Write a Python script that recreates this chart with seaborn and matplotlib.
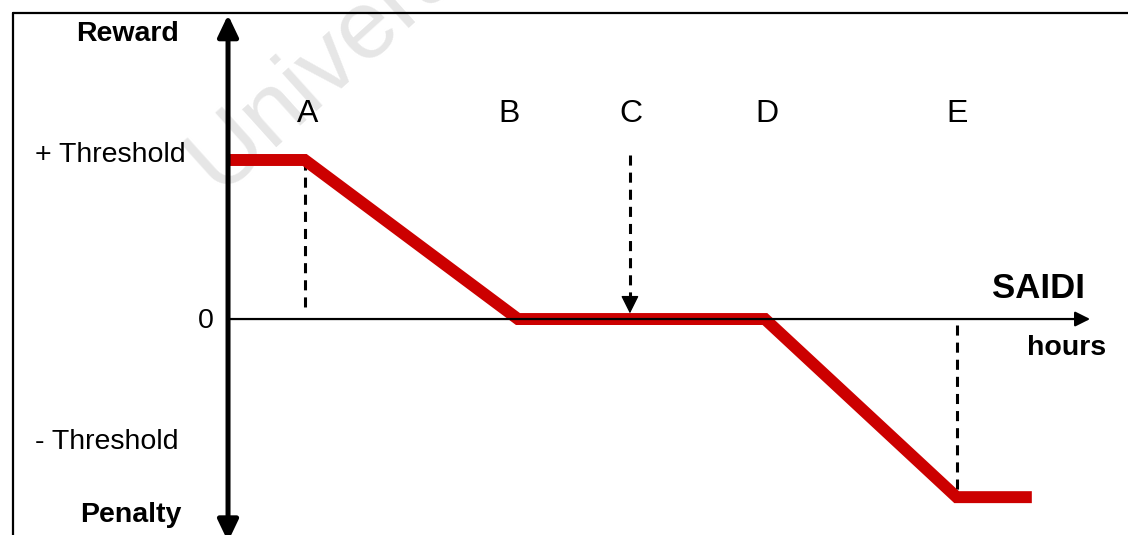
import matplotlib
matplotlib.use("Agg")
import matplotlib.pyplot as plt
from matplotlib.lines import Line2D
import seaborn as sns
import pandas as pd

# piecewise reward / penalty curve (x = SAIDI hours, y = reward level)
curve_x = [0.0, 1.0, 3.78, 7.0, 9.5, 10.48]
curve_y = [1.0, 1.0, 0.0, 0.0, -1.12, -1.12]

# labelled points on the SAIDI axis
point_names = ["A", "B", "C", "D", "E"]
point_x = [1.0, 3.78, 5.24, 7.0, 9.5]
label_x = [1.04, 3.66, 5.25, 7.03, 9.5]

sns.set_theme(style="white")
plt.rcParams["font.family"] = ["Liberation Sans", "DejaVu Sans"]
plt.rcParams["text.color"] = "black"

fig = plt.figure(figsize=(11.28, 5.35), dpi=100)
ax = fig.add_axes([0, 0, 1, 1])
ax.set_xlim(-2.973, 11.734)
ax.set_ylim(-1.358, 2.006)
ax.axis("off")

# frame round the drawing (left and top edges visible)
fig.add_artist(Line2D([0.0115, 0.0115], [0, 0.9757], color="black", lw=1.6))
fig.add_artist(Line2D([0.0115, 1.0], [0.9757, 0.9757], color="black", lw=1.6))

# watermark
ax.text(-0.13, 0.79, "University", fontsize=70, color="#e6e6e6",
        rotation=42, rotation_mode="anchor", ha="left", va="baseline", zorder=0)

df = pd.DataFrame({"hours": curve_x, "reward": curve_y})
sns.lineplot(data=df, x="hours", y="reward", sort=False, color="#cc0000",
             lw=8.6, ax=ax, zorder=2, solid_joinstyle="miter", solid_capstyle="butt")

# axes arrows
ax.annotate("", xy=(11.24, 0), xytext=(0, 0),
            arrowprops=dict(arrowstyle="-|>,head_length=0.9,head_width=0.45",
                            mutation_scale=10, lw=1.6, color="black",
                            shrinkA=0, shrinkB=0), zorder=3)
ax.annotate("", xy=(0, 1.912), xytext=(0, -1.40), annotation_clip=False,
            arrowprops=dict(arrowstyle="<|-|>,head_length=1.3,head_width=0.62",
                            mutation_scale=10, lw=3.6, color="black",
                            shrinkA=0, shrinkB=0), zorder=4)

# dashed guides
dash = (3.3, 2.3)
ax.plot([point_x[0], point_x[0]], [1.0, 0.057], color="black", lw=2.2,
        dashes=dash, zorder=1)
ax.plot([point_x[4], point_x[4]], [-0.04, -1.12], color="black", lw=2.2,
        dashes=dash, zorder=1)
ax.plot([point_x[2], point_x[2]], [1.03, 0.1], color="black", lw=2.2,
        dashes=dash, zorder=1)
ax.annotate("", xy=(point_x[2], 0.035), xytext=(point_x[2], 0.12),
            arrowprops=dict(arrowstyle="-|>,head_length=1.1,head_width=0.55",
                            mutation_scale=10, lw=1, color="black",
                            shrinkA=0, shrinkB=0), zorder=3)

# point letters
for name, lx in zip(point_names, label_x):
    ax.text(lx, 1.31, name, fontsize=23, ha="center", va="center_baseline")

# axis labels
ax.text(-1.317, 1.79, "Reward", fontsize=20.5, fontweight="bold", ha="center", va="center")
ax.text(-1.538, 1.03, "+ Threshold", fontsize=20.5, ha="center", va="center")
ax.text(-0.287, -0.015, "0", fontsize=20.5, ha="center", va="center")
ax.text(-1.578, -0.775, "- Threshold", fontsize=20.5, ha="center", va="center")
ax.text(-1.265, -1.235, "Penalty", fontsize=20.5, fontweight="bold", ha="center", va="center")
ax.text(10.57, 0.19, "SAIDI", fontsize=25, fontweight="bold", ha="center", va="center")
ax.text(10.93, -0.18, "hours", fontsize=20.5, fontweight="bold", ha="center", va="center")

fig.savefig("out.png", dpi=100)
